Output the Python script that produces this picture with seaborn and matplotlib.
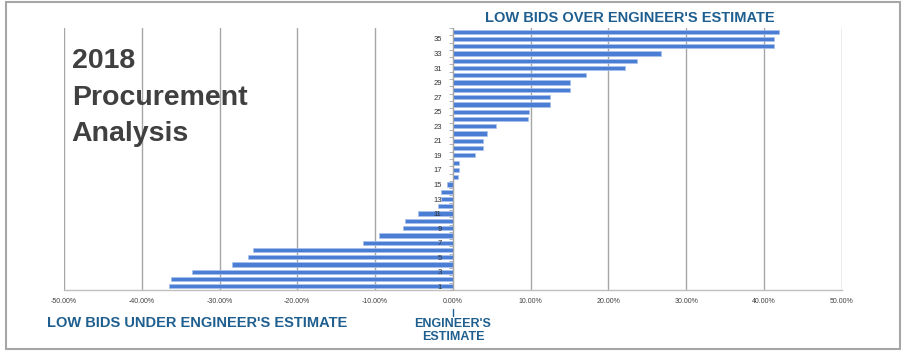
import matplotlib
matplotlib.use("Agg")
import matplotlib.pyplot as plt
import seaborn as sns
import pandas as pd
from matplotlib.patches import Rectangle
from matplotlib.lines import Line2D

# ---- data ----
projects = list(range(1, 37))
pct_diff = [-36.5, -36.2, -33.6, -28.4, -26.3, -25.7, -11.5, -9.5, -6.4, -6.2,
            -4.5, -1.9, -1.5, -1.5, -0.8, 0.7, 0.85, 0.85, 2.8, 3.9,
            3.9, 4.4, 5.6, 9.6, 9.8, 12.5, 12.5, 15.0, 15.0, 17.1,
            22.2, 23.7, 26.8, 41.3, 41.3, 41.9]
x_ticks = [-50, -40, -30, -20, -10, 0, 10, 20, 30, 40, 50]
title_lines = ["2018", "Procurement", "Analysis"]
over_label = "LOW BIDS OVER ENGINEER'S ESTIMATE"
under_label = "LOW BIDS UNDER ENGINEER'S ESTIMATE"
est_label = ["ENGINEER'S", "ESTIMATE"]

sns.set_theme(style="white")
plt.rcParams['font.family'] = ['Liberation Sans', 'DejaVu Sans']

df = pd.DataFrame({"project": [str(p) for p in projects], "pct": pct_diff})
order = [str(p) for p in reversed(projects)]

fig = plt.figure(figsize=(9.09, 3.53), dpi=100)
ax = fig.add_axes([64 / 909, 1 - 290 / 353, (841.7 - 64) / 909, (290 - 28) / 353])

sns.barplot(data=df, x="pct", y="project", order=order, orient="h",
            color="#4A7DD4", saturation=1, width=0.58,
            edgecolor="#A8C2EC", linewidth=0.5, ax=ax)

ax.spines["left"].set_position(("data", 0))
ax.spines["left"].set_color("#A6A6A6")
ax.spines["left"].set_linewidth(0.8)
ax.spines["bottom"].set_color("#BFBFBF")
ax.spines["bottom"].set_linewidth(1.0)
ax.spines["top"].set_visible(False)
ax.spines["right"].set_visible(False)

ax.set_xlim(-50, 50)
ax.set_ylim(35.5, -0.5)
ax.set_xlabel("")
ax.set_ylabel("")
ax.set_xticks(x_ticks)
ax.set_xticklabels([f"{t:.2f}%" for t in x_ticks])
ax.tick_params(axis="x", length=0, pad=6, labelsize=5, labelcolor="#404040")
ax.xaxis.grid(True, color="#A6A6A6", linewidth=1.0)
ax.set_axisbelow(True)

# category axis at zero
n = len(projects)
pos = {p: i for i, p in enumerate(order)}
odd = [str(p) for p in projects if p % 2 == 1]
ax.set_yticks([pos[p] for p in odd])
ax.set_yticklabels(odd)
ax.set_yticks([i + 0.5 for i in range(-1, n)], minor=True)
ax.tick_params(axis="y", which="major", length=0, pad=8, left=True,
               labelsize=5.5, labelcolor="#333333")
ax.tick_params(axis="y", which="minor", length=3, width=0.6, color="#A6A6A6",
               left=True, direction="out")
ax.yaxis.set_zorder(5)

# title text
for line, base in zip(title_lines, [68.3, 105, 141]):
    fig.text(71.7 / 909, 1 - base / 353, line, fontsize=20.5, fontweight="bold",
             color="#404040", ha="left", va="baseline")

narrow = ['Liberation Sans Narrow', 'Liberation Sans', 'DejaVu Sans']
blue = "#1F5F8F"
fig.text(630 / 909, 1 - 18 / 353, over_label, fontsize=10.5, fontweight="bold",
         color=blue, ha="center", va="center", family=narrow)
fig.text(197.5 / 909, 1 - 323 / 353, under_label, fontsize=10.5, fontweight="bold",
         color=blue, ha="center", va="center", family=narrow)
fig.lines.append(Line2D([453 / 909, 453 / 909], [1 - 309 / 353, 1 - 316 / 353],
                        transform=fig.transFigure, color=blue, linewidth=1.0))
fig.text(453 / 909, 1 - 324 / 353, est_label[0], fontsize=9, fontweight="bold",
         color=blue, ha="center", va="center", family=narrow)
fig.text(453 / 909, 1 - 337 / 353, est_label[1], fontsize=9, fontweight="bold",
         color=blue, ha="center", va="center", family=narrow)

# outer border
fig.patches.append(Rectangle((6 / 909, 1 - 349 / 353), (900 - 6) / 909, (349 - 2) / 353,
                             transform=fig.transFigure, fill=False,
                             edgecolor="#A6A6A6", linewidth=1.5))

fig.savefig("out.png", dpi=100)
